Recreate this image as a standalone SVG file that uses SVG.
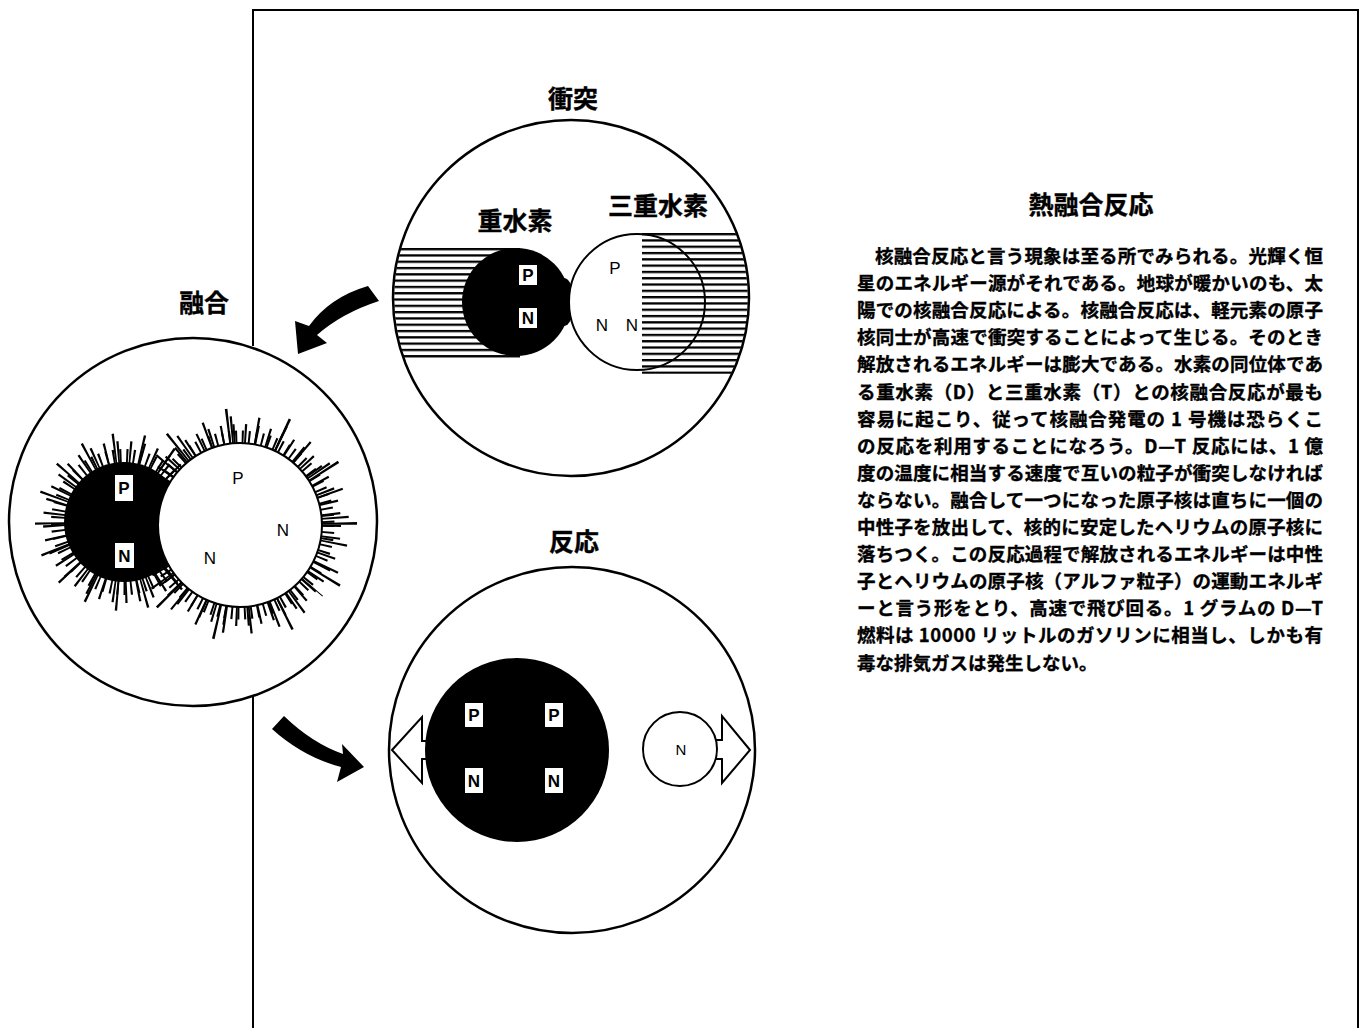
<svg xmlns="http://www.w3.org/2000/svg" width="1366" height="1028" viewBox="0 0 1366 1028">
  <style>
    .jp { font-family: "Noto Sans CJK JP", "Noto Sans CJK SC", sans-serif; font-weight: 700; fill: #000; stroke: #000; stroke-width: 0.35; }
    .body { font-size: 18.5px; }
    .head { font-size: 25px; text-anchor: middle; }
    .lat { font-family: "Liberation Sans", Arial, sans-serif; fill: #000; text-anchor: middle; }
    .boxed { font-size: 17px; font-weight: 700; }
    .plain { font-size: 17px; }
    .ring { fill: #fff; stroke: #000; stroke-width: 2.5; }
    .box { fill: #fff; }
    .frame { fill: none; stroke: #000; stroke-width: 2; }
    .spike { fill: none; stroke: #000; }
    .arrow-open { fill: #fff; stroke: #000; stroke-width: 2; stroke-linejoin: miter; }
  </style>
  <defs>
    <pattern id="hatchL" patternUnits="userSpaceOnUse" x="0" y="248" width="10" height="6.3">
      <rect x="0" y="0" width="10" height="2.3" fill="#000"/>
    </pattern>
    <pattern id="hatchR" patternUnits="userSpaceOnUse" x="0" y="233" width="10" height="6.3">
      <rect x="0" y="0" width="10" height="2.3" fill="#000"/>
    </pattern>
    <clipPath id="clipCollision">
      <circle cx="571" cy="298" r="177"/>
    </clipPath>
  </defs>

  <rect width="1366" height="1028" fill="#fff"/>

  <!-- page frame -->
  <g id="frame">
    <polyline class="frame" points="253,346 253,10 1358,10 1358,1028"/>
    <line class="frame" x1="253" y1="697" x2="253" y2="1028"/>
  </g>

  <!-- collision stage -->
  <g id="collision">
    <text class="jp head" x="573" y="108">衝突</text>
    <circle class="ring" cx="571" cy="298" r="178"/>
    <g clip-path="url(#clipCollision)">
      <rect x="390" y="248" width="130" height="110" fill="url(#hatchL)"/>
    </g>
    <circle cx="516" cy="302" r="54" fill="#000"/>
    <ellipse cx="564" cy="302" rx="10" ry="24" fill="#000"/>
    <circle cx="637" cy="302" r="68" fill="#fff"/>
    <g clip-path="url(#clipCollision)">
      <rect x="642" y="233" width="120" height="141" fill="url(#hatchR)"/>
    </g>
    <circle cx="637" cy="302" r="68" fill="none" stroke="#000" stroke-width="2"/>
    <rect class="box" x="519" y="265" width="18" height="20"/>
    <rect class="box" x="519" y="308" width="18" height="20"/>
    <text class="lat boxed" x="528" y="281">P</text>
    <text class="lat boxed" x="528" y="324">N</text>
    <text class="lat plain" x="615" y="274">P</text>
    <text class="lat plain" x="602" y="331">N</text>
    <text class="lat plain" x="632" y="331">N</text>
    <text class="jp head" x="515" y="230">重水素</text>
    <text class="jp head" x="658" y="215">三重水素</text>
  </g>

  <!-- fusion stage -->
  <g id="fusion">
    <text class="jp head" x="204" y="312">融合</text>
    <circle class="ring" cx="193" cy="522" r="184"/>
    <!-- radial spikes round the light nucleus -->
    <g transform="translate(240 525)">
      <circle class="spike" r="88" stroke-width="13" stroke-dasharray="2 4.6"/>
      <circle class="spike" r="91" stroke-width="20" stroke-dasharray="2 9.5" stroke-dashoffset="2" transform="rotate(13)"/>
      <circle class="spike" r="95" stroke-width="28" stroke-dasharray="2 23" stroke-dashoffset="5" transform="rotate(41)"/>
      <circle class="spike" r="99" stroke-width="36" stroke-dasharray="2.2 53" stroke-dashoffset="11" transform="rotate(77)"/>
    </g>
    <!-- radial spikes round the dark nucleus -->
    <g transform="translate(124 522)">
      <circle class="spike" r="66" stroke-width="14" stroke-dasharray="2 4.8"/>
      <circle class="spike" r="70" stroke-width="22" stroke-dasharray="2 10" stroke-dashoffset="3" transform="rotate(21)"/>
      <circle class="spike" r="74" stroke-width="30" stroke-dasharray="2 25" stroke-dashoffset="7" transform="rotate(58)"/>
    </g>
    <circle cx="124" cy="522" r="60" fill="#000"/>
    <circle cx="240" cy="525" r="82" fill="#fff" stroke="#000" stroke-width="2"/>
    <rect class="box" x="115" y="475" width="18" height="26"/>
    <rect class="box" x="115" y="543" width="19" height="25"/>
    <text class="lat boxed" x="124" y="494">P</text>
    <text class="lat boxed" x="124.5" y="562">N</text>
    <text class="lat plain" x="238" y="484">P</text>
    <text class="lat plain" x="283" y="536">N</text>
    <text class="lat plain" x="210" y="564">N</text>
  </g>

  <!-- reaction stage -->
  <g id="reaction">
    <text class="jp head" x="574" y="551">反応</text>
    <circle class="ring" cx="572" cy="750" r="183"/>
    <polygon class="arrow-open" points="392,750 422,717 422,741 440,741 440,759 422,759 422,783"/>
    <circle cx="517" cy="750" r="92" fill="#000"/>
    <rect class="box" x="465" y="703" width="18" height="24"/>
    <rect class="box" x="545" y="703" width="18" height="24"/>
    <rect class="box" x="465" y="768" width="18" height="25"/>
    <rect class="box" x="545" y="768" width="18" height="25"/>
    <text class="lat boxed" x="474" y="721">P</text>
    <text class="lat boxed" x="554" y="721">P</text>
    <text class="lat boxed" x="474" y="787">N</text>
    <text class="lat boxed" x="554" y="787">N</text>
    <polygon class="arrow-open" points="750,750 722,716 722,740 700,740 700,759 722,759 722,783"/>
    <circle cx="680" cy="749" r="37" fill="#fff" stroke="#000" stroke-width="2"/>
    <text class="lat" x="681" y="755" font-size="15">N</text>
  </g>

  <!-- curved arrows linking the stages -->
  <g id="connectors" fill="#000">
    <path d="M368,286 Q330,297 309,326 L295,321 L298,354 L327,343 L317,335 Q342,313 379,301 Z"/>
    <path d="M284,716 Q312,743 343,754 L342,744 L364,767 L337,782 L341,767 Q303,757 272,729 Z"/>
  </g>

  <!-- description -->
  <g id="description">
    <text class="jp head" x="1091" y="214">熱融合反応</text>
    <g class="jp body">
      <text x="875" y="263" textLength="448" lengthAdjust="spacing">核融合反応と言う現象は至る所でみられる。光輝く恒</text>
      <text x="857" y="290.1" textLength="466" lengthAdjust="spacing">星のエネルギー源がそれである。地球が暖かいのも、太</text>
      <text x="857" y="317.2" textLength="466" lengthAdjust="spacing">陽での核融合反応による。核融合反応は、軽元素の原子</text>
      <text x="857" y="344.3" textLength="466" lengthAdjust="spacing">核同士が高速で衝突することによって生じる。そのとき</text>
      <text x="857" y="371.4" textLength="466" lengthAdjust="spacing">解放されるエネルギーは膨大である。水素の同位体であ</text>
      <text x="857" y="398.5" textLength="466" lengthAdjust="spacing">る重水素（D）と三重水素（T）との核融合反応が最も</text>
      <text x="857" y="425.6" textLength="466" lengthAdjust="spacing">容易に起こり、従って核融合発電の 1 号機は恐らくこ</text>
      <text x="857" y="452.7" textLength="466" lengthAdjust="spacing">の反応を利用することになろう。D—T 反応には、1 億</text>
      <text x="857" y="479.8" textLength="466" lengthAdjust="spacing">度の温度に相当する速度で互いの粒子が衝突しなければ</text>
      <text x="857" y="506.9" textLength="466" lengthAdjust="spacing">ならない。融合して一つになった原子核は直ちに一個の</text>
      <text x="857" y="534" textLength="466" lengthAdjust="spacing">中性子を放出して、核的に安定したヘリウムの原子核に</text>
      <text x="857" y="561.1" textLength="466" lengthAdjust="spacing">落ちつく。この反応過程で解放されるエネルギーは中性</text>
      <text x="857" y="588.2" textLength="466" lengthAdjust="spacing">子とヘリウムの原子核（アルファ粒子）の運動エネルギ</text>
      <text x="857" y="615.3" textLength="466" lengthAdjust="spacing">ーと言う形をとり、高速で飛び回る。1 グラムの D—T</text>
      <text x="857" y="642.4" textLength="466" lengthAdjust="spacing">燃料は 10000 リットルのガソリンに相当し、しかも有</text>
      <text x="857" y="669.5">毒な排気ガスは発生しない。</text>
    </g>
  </g>
</svg>
